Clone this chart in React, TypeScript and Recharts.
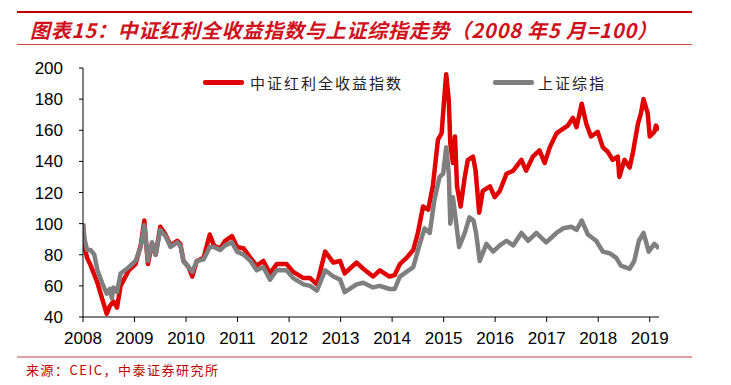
import React from 'react';
import { LineChart, Line, XAxis, YAxis } from 'recharts';

// t = years since May 2008, value = index (May 2008 = 100)
const redPoints: [number, number][] = [
  [0, 100], [0.03, 85], [0.08, 78], [0.15, 73], [0.28, 62], [0.37, 52], [0.46, 42], [0.52, 47], [0.59, 50], [0.66, 46],
  [0.73, 60], [0.89, 70], [1.02, 74], [1.12, 86], [1.19, 102], [1.26, 74], [1.34, 87], [1.41, 80], [1.5, 98], [1.6, 93],
  [1.7, 86], [1.83, 89], [1.89, 87], [1.95, 76], [2.05, 72], [2.12, 66], [2.21, 76], [2.34, 78], [2.46, 93], [2.54, 86],
  [2.66, 84], [2.76, 89], [2.89, 92], [2.99, 85], [3.12, 84], [3.25, 78], [3.37, 73], [3.5, 76], [3.63, 68], [3.76, 74],
  [3.95, 74], [4.08, 69], [4.28, 65], [4.41, 65], [4.54, 61], [4.7, 82], [4.86, 75], [4.99, 76], [5.08, 68], [5.31, 75],
  [5.44, 71], [5.63, 66], [5.76, 70], [5.95, 66], [6.05, 67], [6.15, 74], [6.28, 78], [6.41, 83], [6.5, 94], [6.6, 111],
  [6.7, 109], [6.79, 124], [6.89, 154], [6.96, 158], [7.02, 184], [7.05, 196], [7.1, 179], [7.13, 151], [7.18, 139], [7.22, 156],
  [7.26, 124], [7.33, 111], [7.41, 130], [7.47, 141], [7.57, 143], [7.62, 134], [7.69, 107], [7.76, 121], [7.9, 124], [7.99, 117],
  [8.09, 121], [8.22, 132], [8.35, 134], [8.51, 141], [8.6, 134], [8.73, 143], [8.86, 147], [8.96, 139], [9.06, 149], [9.19, 158],
  [9.32, 161], [9.41, 163], [9.51, 168], [9.58, 162], [9.68, 177], [9.77, 164], [9.86, 156], [9.99, 159], [10.09, 149], [10.19, 146],
  [10.28, 141], [10.38, 143], [10.41, 130], [10.51, 141], [10.61, 136], [10.67, 145], [10.77, 164], [10.83, 171], [10.88, 180], [10.96, 171],
  [11.0, 156], [11.09, 159], [11.12, 163], [11.18, 160],
];

const greyPoints: [number, number][] = [
  [0, 100], [0.03, 90], [0.08, 83], [0.15, 83], [0.22, 80], [0.28, 70], [0.37, 62], [0.46, 55], [0.52, 58], [0.56, 52],
  [0.59, 59], [0.66, 56], [0.73, 68], [0.89, 72], [1.02, 76], [1.12, 85], [1.19, 99], [1.26, 76], [1.34, 88], [1.41, 80],
  [1.5, 96], [1.6, 92], [1.7, 85], [1.83, 88], [1.89, 86], [1.95, 76], [2.05, 72], [2.12, 69], [2.21, 76], [2.34, 77],
  [2.46, 85], [2.54, 85], [2.66, 83], [2.76, 86], [2.89, 88], [2.99, 82], [3.12, 80], [3.25, 76], [3.37, 70], [3.5, 72],
  [3.63, 64], [3.76, 70], [3.95, 70], [4.08, 65], [4.28, 61], [4.41, 60], [4.54, 57], [4.7, 70], [4.86, 66], [4.99, 64],
  [5.08, 56], [5.31, 61], [5.44, 62], [5.63, 59], [5.76, 60], [5.95, 58], [6.05, 58], [6.15, 66], [6.28, 69], [6.41, 72],
  [6.52, 85], [6.63, 97], [6.73, 94], [6.82, 115], [6.92, 130], [6.99, 132], [7.05, 149], [7.1, 132], [7.13, 100], [7.18, 117],
  [7.23, 104], [7.3, 85], [7.41, 94], [7.5, 104], [7.58, 102], [7.63, 94], [7.7, 76], [7.83, 87], [7.96, 82], [8.09, 86],
  [8.22, 89], [8.35, 86], [8.51, 94], [8.64, 89], [8.8, 94], [8.99, 88], [9.19, 94], [9.32, 97], [9.48, 98], [9.58, 96],
  [9.68, 102], [9.8, 93], [9.96, 89], [10.09, 82], [10.22, 81], [10.35, 78], [10.44, 73], [10.61, 71], [10.7, 76], [10.79, 89],
  [10.88, 94], [10.98, 82], [11.09, 87], [11.18, 84],
];

const xTicks = [0, 1, 2, 3, 4, 5, 6, 7, 8, 9, 10, 11];
const xTickLabels = ['2008', '2009', '2010', '2011', '2012', '2013', '2014', '2015', '2016', '2017', '2018', '2019'];
const yTicks = [40, 60, 80, 100, 120, 140, 160, 180, 200];
const seriesNames = ['中证红利全收益指数', '上证综指'];
const titleText = '图表15：中证红利全收益指数与上证综指走势（2008 年5 月=100）';
const sourceText = '来源：CEIC，中泰证券研究所';

const RED = '#E00000';
const GREY = '#7F7F7F';
const seriesColors = [RED, GREY];

const redData = redPoints.map(([t, v]) => ({ t, v }));
const greyData = greyPoints.map(([t, v]) => ({ t, v }));

const legendLeft = [203, 493];

export default function App() {
  return (
    <div style={{ position: 'absolute', left: 0, top: 0, width: 731, height: 385, background: '#fff' }}>
      <div style={{ position: 'absolute', left: 17, top: 11, width: 675, height: 2, background: '#C00000' }} />
      <div
        style={{
          position: 'absolute',
          left: 30,
          top: 17,
          fontFamily: '"Noto Sans CJK SC", sans-serif',
          fontWeight: 700,
          fontStyle: 'italic',
          fontSize: 20,
          letterSpacing: 0.8,
          color: '#D0101A',
          whiteSpace: 'nowrap',
          lineHeight: '26px',
        }}
      >
        {titleText}
      </div>
      <div style={{ position: 'absolute', left: 17, top: 44, width: 675, height: 1, background: '#D04040' }} />
      <LineChart
        width={731}
        height={385}
        margin={{ top: 68, right: 72, bottom: 38, left: 0 }}
        style={{ position: 'absolute', left: 0, top: 0 }}
      >
        <XAxis
          dataKey="t"
          type="number"
          domain={[0, 11.18]}
          ticks={xTicks}
          tickFormatter={(v: number) => xTickLabels[v]}
          height={30}
          tickSize={5}
          tickMargin={10}
          axisLine={{ stroke: '#000', strokeWidth: 1 }}
          tickLine={{ stroke: '#000' }}
          tick={{ fill: '#000', fontSize: 17, fontFamily: '"Liberation Sans", Arial, sans-serif' }}
          allowDataOverflow
          interval={0}
        />
        <YAxis
          type="number"
          domain={[40, 200]}
          ticks={yTicks}
          width={83}
          tickSize={4}
          tickMargin={16}
          axisLine={{ stroke: '#000', strokeWidth: 1 }}
          tickLine={{ stroke: '#000' }}
          tick={{ fill: '#000', fontSize: 17, fontFamily: '"Liberation Sans", Arial, sans-serif' }}
          allowDataOverflow
          interval={0}
        />
        <Line
          data={redData}
          dataKey="v"
          name={seriesNames[0]}
          stroke={RED}
          strokeWidth={4.5}
          dot={false}
          activeDot={false}
          isAnimationActive={false}
          type="linear"
          strokeLinejoin="round"
        />
        <Line
          data={greyData}
          dataKey="v"
          name={seriesNames[1]}
          stroke={GREY}
          strokeWidth={4.5}
          dot={false}
          activeDot={false}
          isAnimationActive={false}
          type="linear"
          strokeLinejoin="round"
        />
      </LineChart>
      {seriesNames.map((name, i) => (
        <div
          key={name}
          style={{
            position: 'absolute',
            left: legendLeft[i],
            top: 70,
            display: 'flex',
            alignItems: 'center',
            height: 24,
          }}
        >
          <div style={{ width: 41, height: 5, background: seriesColors[i], borderRadius: 2 }} />
          <span
            style={{
              marginLeft: i === 0 ? 6 : 4,
              fontFamily: '"Noto Sans CJK SC", sans-serif',
              fontSize: 15,
              letterSpacing: 2,
              color: '#222',
              whiteSpace: 'nowrap',
            }}
          >
            {name}
          </span>
        </div>
      ))}
      <div style={{ position: 'absolute', left: 17, top: 356, width: 675, height: 2, background: '#E0A0A0' }} />
      <div
        style={{
          position: 'absolute',
          left: 26,
          top: 361,
          fontFamily: '"Noto Sans CJK SC", sans-serif',
          fontSize: 13,
          letterSpacing: 1.5,
          color: '#C00000',
          whiteSpace: 'nowrap',
          lineHeight: '18px',
        }}
      >
        {sourceText}
      </div>
    </div>
  );
}
